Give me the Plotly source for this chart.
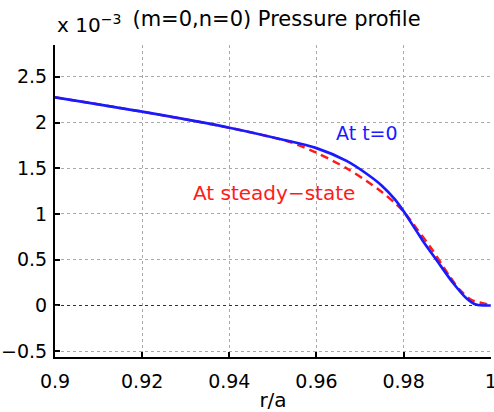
import plotly.graph_objects as go

# r/a positions and pressure values (x 1e-3)
r_t0 = [0.900, 0.920, 0.940, 0.9516, 0.960, 0.9669, 0.9715, 0.975, 0.978, 0.980, 0.983, 0.9845, 0.9875, 0.9914, 0.9944, 0.9966, 1.000]
p_t0 = [2.275, 2.118, 1.943, 1.820, 1.720, 1.580, 1.440, 1.310, 1.160, 1.030, 0.810, 0.700, 0.500, 0.243, 0.079, 0.010, 0.000]

r_ss = [0.900, 0.920, 0.940, 0.953, 0.956, 0.960, 0.9669, 0.9715, 0.975, 0.978, 0.980, 0.983, 0.9864, 0.9906, 0.9929, 0.9956, 0.999, 1.000]
p_ss = [2.275, 2.118, 1.943, 1.800, 1.750, 1.670, 1.500, 1.360, 1.240, 1.120, 1.025, 0.840, 0.620, 0.315, 0.170, 0.060, 0.015, 0.000]

x_ticks = [0.9, 0.92, 0.94, 0.96, 0.98, 1.0]
x_ticklabels = ["0.9", "0.92", "0.94", "0.96", "0.98", "1"]
y_ticks = [-0.5, 0, 0.5, 1, 1.5, 2, 2.5]
y_ticklabels = ["\u22120.5", "0", "0.5", "1", "1.5", "2", "2.5"]

FONT = "DejaVu Sans"

fig = go.Figure()
fig.add_trace(go.Scatter(x=r_ss, y=p_ss, mode="lines",
                         line=dict(color="#ff1a1a", width=2.5, dash="8px,5px", shape="spline", smoothing=0.8),
                         showlegend=False))
fig.add_trace(go.Scatter(x=r_t0, y=p_t0, mode="lines",
                         line=dict(color="#1a1aff", width=2.7, shape="spline", smoothing=0.8),
                         showlegend=False))

# zero reference line
fig.add_shape(type="line", xref="paper", x0=0, x1=1, yref="y", y0=0, y1=0,
              line=dict(color="#333333", width=1.2, dash="dot"))

fig.add_annotation(x=0.9716, y=1.885, xref="x", yref="y", text="At t=0", showarrow=False,
                   font=dict(family=FONT, size=19, color="#1a1aff"))
fig.add_annotation(x=0.9502, y=1.23, xref="x", yref="y", text="At steady\u2212state", showarrow=False,
                   font=dict(family=FONT, size=20, color="#ff1a1a"))

fig.add_annotation(x=0, y=1.02, xref="paper", yref="paper", xanchor="left", yanchor="bottom",
                   text="x 10<sup>\u22123</sup>", showarrow=False,
                   font=dict(family=FONT, size=20, color="black"))

fig.update_layout(
    width=494, height=412,
    margin=dict(l=55, r=3, t=45, b=55),
    paper_bgcolor="white", plot_bgcolor="white",
    font=dict(family=FONT, size=19, color="black"),
    title=dict(text="(m=0,n=0) Pressure profile", x=276.5/494, xanchor="center",
               y=1 - 19/412, yanchor="middle", font=dict(family=FONT, size=21, color="black")),
    xaxis=dict(range=[0.9, 1.00005], tickvals=x_ticks, ticktext=x_ticklabels,
               showgrid=True, gridcolor="#aaaaaa", griddash="dot", gridwidth=1,
               zeroline=False, showline=True, linecolor="black", linewidth=2,
               ticks="inside", ticklen=5, tickwidth=1.5, tickcolor="black",
               ticklabelstandoff=6, automargin=False, ticklabeloverflow="allow",
               title=dict(text="r/a", font=dict(family=FONT, size=20), standoff=4)),
    yaxis=dict(range=[-0.563, 2.847], tickvals=y_ticks, ticktext=y_ticklabels,
               showgrid=True, gridcolor="#aaaaaa", griddash="dot", gridwidth=1,
               zeroline=False, showline=True, linecolor="black", linewidth=2,
               ticks="inside", ticklen=5, tickwidth=1.5, tickcolor="black",
               ticklabelstandoff=2, automargin=False, ticklabeloverflow="allow"),
)

fig.write_html("out.html", config={"displayModeBar": False},
               post_script="document.body.style.margin='0px';")
